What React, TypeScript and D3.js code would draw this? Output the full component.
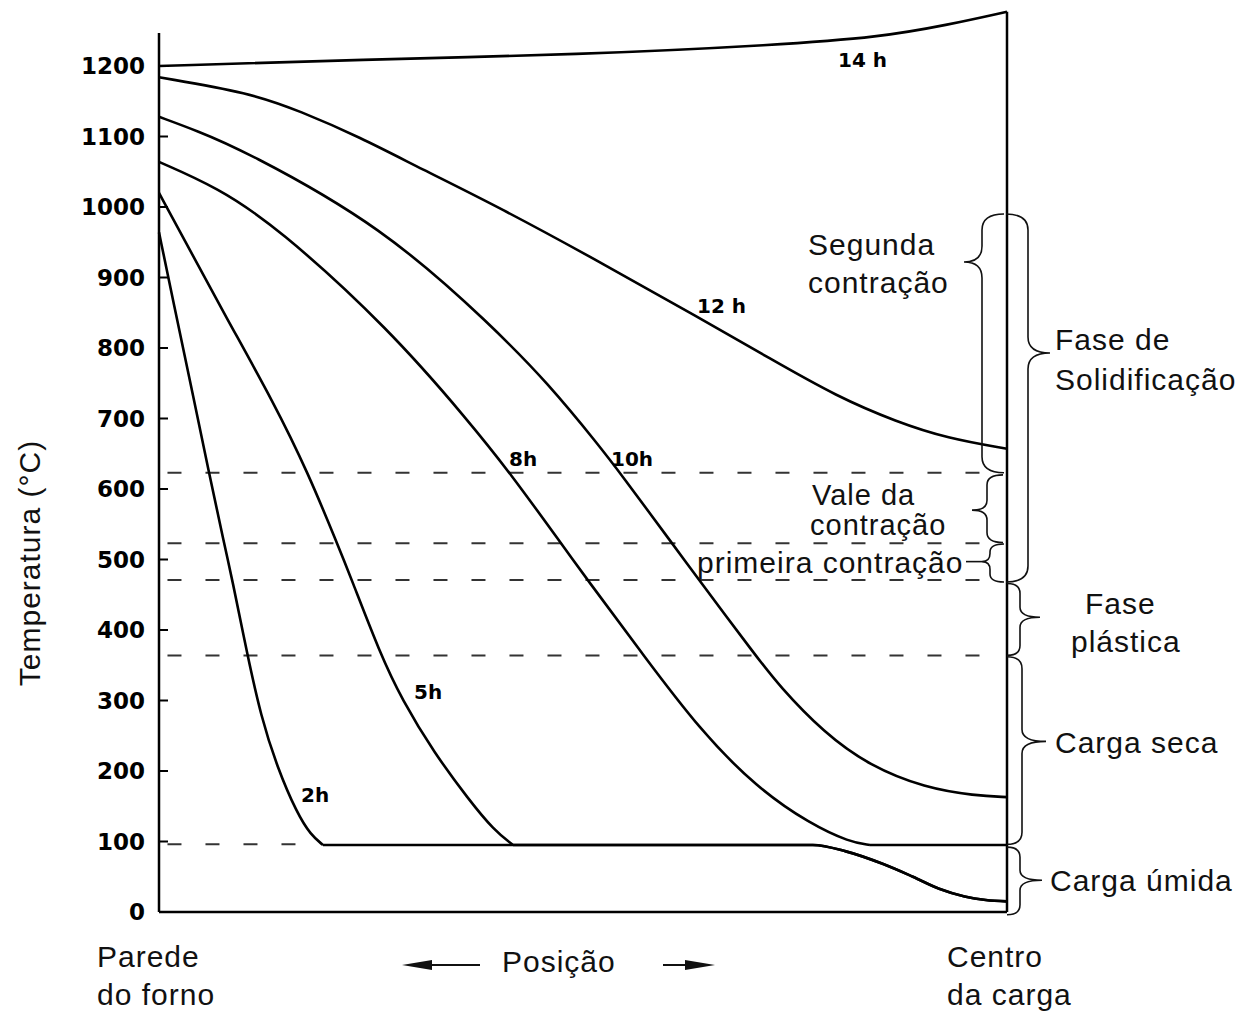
import React from "react";
import * as d3 from "d3";

// temperature axis
const yTicks = [0, 100, 200, 300, 400, 500, 600, 700, 800, 900, 1000, 1100, 1200];

// curves: position (0 = furnace wall, 100 = charge centre) and temperature (°C)
const pos2h = [0, 1.65, 4.13, 5.9, 7.67, 8.6, 10.38, 12.03, 13.92, 16.27, 17.92, 19.34, 50, 77.1, 81, 85.4, 88.9, 92, 95, 97.5, 100];
const temp2h = [964, 868, 726, 623, 523, 474, 367, 277, 206, 140, 109, 95, 95, 95, 86, 68, 50, 33, 22, 17, 15];

const pos5h = [0, 2.83, 7.9, 13.56, 17.57, 21.0, 22.64, 26.06, 28.66, 32.43, 36.56, 39.5, 41.75, 60, 77.1, 81, 85.4, 88.9, 92, 95, 97.5, 100];
const temp5h = [1020, 957, 844, 722, 623, 523, 474, 367, 301, 226, 159, 116, 95, 95, 95, 86, 68, 50, 33, 22, 17, 15];

const pos8h = [0, 6.84, 13.92, 27.24, 36.67, 41.39, 47.41, 50.35, 57.08, 63.8, 70.52, 76.77, 81.49, 83.84, 100];
const temp8h = [1064, 1028, 972, 826, 694, 623, 523, 474, 365, 258, 176, 125, 99, 95, 95];

const pos10h = [0, 4.5, 9.9, 26.42, 39.39, 45.87, 52.0, 54.36, 60.5, 63.68, 70.28, 73.11, 78.42, 83.84, 90.33, 96.23, 100];
const temp10h = [1128, 1108, 1081, 972, 830, 750, 660, 623, 523, 471, 365, 321, 254, 207, 176, 165, 163];

const pos12h = [0, 10.73, 16.63, 23.7, 30.78, 40.21, 52.0, 63.8, 72.05, 79.95, 87.03, 92.92, 100];
const temp12h = [1184, 1162, 1136, 1099, 1055, 999, 922, 842, 785, 731, 695, 672, 657];

const pos14h = [0, 23.7, 49.6, 73.2, 85.0, 92.9, 100];
const temp14h = [1200, 1209, 1216, 1230, 1241, 1258, 1277];

const curveNames = ["2h", "5h", "8h", "10h", "12 h", "14 h"];

// dashed phase limits
const dashedLevels = [623, 523, 471, 364];
const wetLevel = 96;

// phase braces
const braceNames = ["Segunda contração", "Fase de Solidificação", "Vale da contração", "primeira contração", "Fase plástica", "Carga seca", "Carga úmida"];
const braceTop = [990, 990, 620, 522, 466, 362, 92];
const braceBottom = [623, 468, 524, 468, 364, 96, -4];
const braceTip = [922, 793, 570, 497, 418, 242, 45];

const W = 1243;
const H = 1011;

const x = d3.scaleLinear().domain([0, 100]).range([159, 1007]);
const y = d3.scaleLinear().domain([0, 1200]).range([912, 66]);

const lineOf = (curve: d3.CurveFactory) =>
  d3
    .line<[number, number]>()
    .x((d) => x(d[0]))
    .y((d) => y(d[1]))
    .curve(curve);

const monotone = lineOf(d3.curveMonotoneX);
const smooth = lineOf(d3.curveBasis);

const zip = (p: number[], t: number[]) => p.map((v, i) => [v, t[i]] as [number, number]);

// smooth falling part, then the 100 °C plateau (and dip) kept monotone
function curvePath(pts: [number, number][]) {
  const k = pts.findIndex((d) => d[1] <= 95);
  if (k < 0) return smooth(pts) || "";
  return (smooth(pts.slice(0, k + 1)) || "") + (monotone(pts.slice(k)) || "");
}

const series = [
  zip(pos2h, temp2h),
  zip(pos5h, temp5h),
  zip(pos8h, temp8h),
  zip(pos10h, temp10h),
  zip(pos12h, temp12h),
  zip(pos14h, temp14h),
];

// where each curve label sits (px)
const labelPos = [
  [301, 802],
  [414, 699],
  [509, 466],
  [611, 466],
  [697, 313],
  [838, 67],
];

function bracePath(xe: number, xv: number, xt: number, y1: number, y2: number, yt: number, r: number) {
  return `M${xe},${y1} Q${xv},${y1} ${xv},${y1 + r} L${xv},${yt - r} Q${xv},${yt} ${xt},${yt} Q${xv},${yt} ${xv},${yt + r} L${xv},${y2 - r} Q${xv},${y2} ${xe},${y2}`;
}

// brace geometry: [end x, vertical x, tip x, curl radius]
const braceGeom = [
  [1004, 982, 964, 16],
  [1006, 1028, 1050, 16],
  [1003, 987, 972, 10],
  [1004, 990, 982, 8],
  [1007, 1020, 1040, 10],
  [1007, 1022, 1046, 12],
  [1007, 1020, 1042, 10],
];

const textFont = "'Liberation Sans', Arial, sans-serif";
const tickFont = "'DejaVu Sans', sans-serif";

export default function App() {
  const txt = { fontFamily: textFont, fontSize: 30, letterSpacing: 1, fill: "#111" } as const;
  return (
    <svg width={W} height={H} style={{ position: "absolute", left: 0, top: 0, background: "#fff" }}>
      {/* dashed phase limits */}
      {dashedLevels.map((v) => (
        <line key={v} x1={x(1)} x2={x(99.5)} y1={y(v)} y2={y(v)} stroke="#333" strokeWidth={2} strokeDasharray="14 24" />
      ))}
      <line x1={x(1)} x2={x(17)} y1={y(wetLevel)} y2={y(wetLevel)} stroke="#333" strokeWidth={2} strokeDasharray="14 24" />

      {/* axes */}
      <line x1={x(0)} x2={x(0)} y1={33} y2={y(0)} stroke="#000" strokeWidth={2.5} />
      <line x1={x(100)} x2={x(100)} y1={y(1277)} y2={y(0)} stroke="#000" strokeWidth={2.5} />
      <line x1={x(0)} x2={x(100)} y1={y(0)} y2={y(0)} stroke="#000" strokeWidth={2.5} />
      {yTicks.map((t) => (
        <g key={t}>
          <line x1={x(0)} x2={x(0) + 9} y1={y(t)} y2={y(t)} stroke="#000" strokeWidth={2} />
          <text x={145} y={y(t)} dy="0.36em" textAnchor="end" fontFamily={tickFont} fontWeight="bold" fontSize={23}>
            {t}
          </text>
        </g>
      ))}

      {/* temperature curves */}
      {series.map((s, i) => (
        <path key={i} d={curvePath(s)} fill="none" stroke="#000" strokeWidth={2.6} />
      ))}
      {curveNames.map((n, i) => (
        <text key={n} x={labelPos[i][0]} y={labelPos[i][1]} fontFamily={tickFont} fontWeight="bold" fontSize={20}>
          {n}
        </text>
      ))}

      {/* braces */}
      {braceNames.map((n, i) => {
        const [xe, xv, xt, r] = braceGeom[i];
        return (
          <path key={n} d={bracePath(xe, xv, xt, y(braceTop[i]), y(braceBottom[i]), y(braceTip[i]), r)} fill="none" stroke="#111" strokeWidth={1.6} />
        );
      })}
      <line x1={966} x2={982} y1={y(braceTip[3])} y2={y(braceTip[3])} stroke="#111" strokeWidth={1.6} />

      {/* brace texts */}
      <text {...txt} x={808} y={255}>Segunda</text>
      <text {...txt} x={808} y={293}>contração</text>
      <text {...txt} x={1055} y={350}>Fase de</text>
      <text {...txt} x={1055} y={390}>Solidificação</text>
      <text {...txt} x={812} y={505} fontSize={29}>Vale da</text>
      <text {...txt} x={810} y={535} fontSize={29}>contração</text>
      <text {...txt} x={697} y={573}>primeira contração</text>
      <text {...txt} x={1085} y={614}>Fase</text>
      <text {...txt} x={1071} y={652}>plástica</text>
      <text {...txt} x={1055} y={753}>Carga seca</text>
      <text {...txt} x={1050} y={891}>Carga úmida</text>

      {/* axis titles */}
      <text {...txt} transform="translate(40,563) rotate(-90)" textAnchor="middle">Temperatura (°C)</text>
      <text {...txt} x={97} y={967}>Parede</text>
      <text {...txt} x={97} y={1005}>do forno</text>
      <text {...txt} x={947} y={967}>Centro</text>
      <text {...txt} x={947} y={1005}>da carga</text>
      <text {...txt} x={502} y={972}>Posição</text>
      <line x1={425} x2={480} y1={965} y2={965} stroke="#111" strokeWidth={2} />
      <path d="M402,965 L432,960 L432,970 Z" fill="#111" />
      <line x1={663} x2={690} y1={965} y2={965} stroke="#111" strokeWidth={2} />
      <path d="M715,965 L685,960 L685,970 Z" fill="#111" />
    </svg>
  );
}
